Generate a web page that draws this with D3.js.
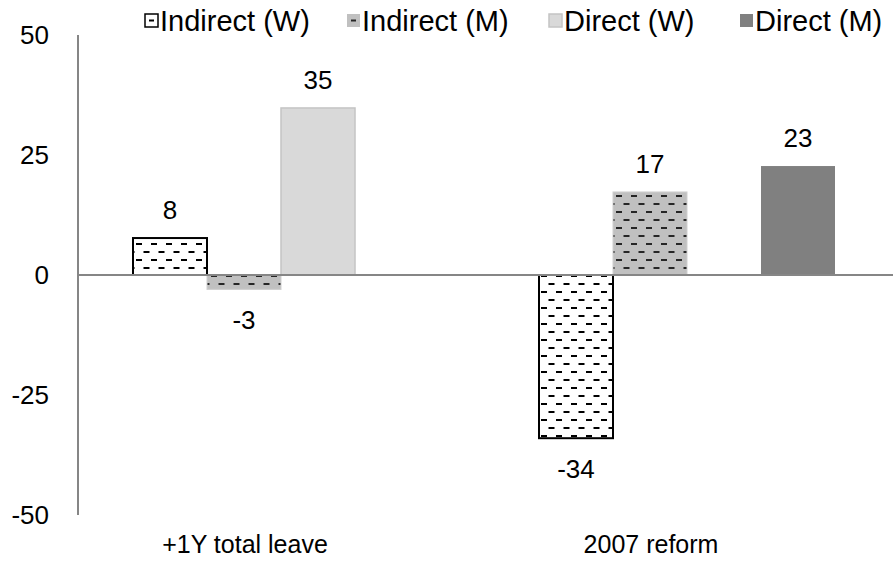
<!DOCTYPE html>
<html>
<head>
<meta charset="utf-8">
<script src="https://cdn.jsdelivr.net/npm/d3@7"></script>
<style>
  body { margin: 0; background: #fff; }
  text { font-family: "Liberation Sans", Arial, sans-serif; fill: #000; }
</style>
</head>
<body>
<div id="chart"></div>
<script>
// data
var categories = ["+1Y total leave", "2007 reform"];
var seriesNames = ["Indirect (W)", "Indirect (M)", "Direct (W)", "Direct (M)"];
var indirectW = [7.7, -34];
var indirectM = [-3, 17.3];
var directW = [34.8, null];
var directM = [null, 22.7];
var yTicks = [-50, -25, 0, 25, 50];

const width = 895;
const height = 569;

var svg = d3.select("#chart").append("svg")
    .attr("width", width)
    .attr("height", height);

var defs = svg.append("defs");

// dashed horizontal pattern (Excel style)
function dashPattern(id, bg, dash) {
    var p = defs.append("pattern")
        .attr("id", id)
        .attr("patternUnits", "userSpaceOnUse")
        .attr("width", 15)
        .attr("height", 16);
    p.append("rect").attr("width", 15).attr("height", 16).attr("fill", bg);
    p.append("rect").attr("x", 1).attr("y", 3).attr("width", 6).attr("height", 2).attr("fill", dash);
    p.append("rect").attr("x", 8.5).attr("y", 11).attr("width", 6).attr("height", 2).attr("fill", dash);
}
dashPattern("patW", "#ffffff", "#000000");
dashPattern("patM", "#c0c0c0", "#262626");

var styles = [
    {fill: "url(#patW)", stroke: "#000000", sw: 2},
    {fill: "url(#patM)", stroke: "#cfcfcf", sw: 1},
    {fill: "#d9d9d9", stroke: "#c4c4c4", sw: 1.5},
    {fill: "#808080", stroke: "none", sw: 0}
];

var seriesVals = [indirectW, indirectM, directW, directM];
var rows = [];
categories.forEach(function(c, i) {
    seriesNames.forEach(function(s, j) {
        rows.push({cat: c, series: s, idx: j, value: seriesVals[j][i]});
    });
});

var plotLeft = 78, plotRight = 890, plotTop = 35, plotBottom = 515;

var y = d3.scaleLinear().domain([-50, 50]).range([plotBottom, plotTop]);
var x0 = d3.scaleBand().domain(categories).range([plotLeft, plotRight]);
var groupPad = 55;
var x1 = d3.scaleBand().domain(seriesNames).range([groupPad, x0.bandwidth() - groupPad]);

// y axis line + labels
svg.append("line")
    .attr("x1", plotLeft).attr("x2", plotLeft)
    .attr("y1", y(50)).attr("y2", y(-50))
    .attr("stroke", "#868686").attr("stroke-width", 2);

svg.selectAll(".ytick")
    .data(yTicks)
    .enter()
    .append("text")
    .attr("class", "ytick")
    .attr("x", 49)
    .attr("y", function(d) { return y(d); })
    .attr("dy", "0.36em")
    .attr("text-anchor", "end")
    .style("font-size", "26px")
    .text(function(d) { return d; });

// bars
var bars = rows.filter(function(d) { return d.value != null; });
svg.selectAll(".bar")
    .data(bars)
    .enter()
    .append("rect")
    .attr("class", "bar")
    .attr("x", function(d) { return x0(d.cat) + x1(d.series); })
    .attr("width", x1.bandwidth())
    .attr("y", function(d) { return d.value >= 0 ? y(d.value) : y(0); })
    .attr("height", function(d) { return Math.abs(y(d.value) - y(0)); })
    .attr("fill", function(d) { return styles[d.idx].fill; })
    .attr("stroke", function(d) { return styles[d.idx].stroke; })
    .attr("stroke-width", function(d) { return styles[d.idx].sw; });

// zero line
svg.append("line")
    .attr("x1", plotLeft).attr("x2", plotRight + 3)
    .attr("y1", y(0)).attr("y2", y(0))
    .attr("stroke", "#868686").attr("stroke-width", 2);

// value labels (plain hyphen for negatives, like the original)
svg.selectAll(".vlab")
    .data(bars)
    .enter()
    .append("text")
    .attr("class", "vlab")
    .attr("x", function(d) { return x0(d.cat) + x1(d.series) + x1.bandwidth() / 2; })
    .attr("y", function(d) { return d.value >= 0 ? y(d.value) - 19 : y(d.value) + 40; })
    .attr("text-anchor", "middle")
    .style("font-size", "26px")
    .text(function(d) { return String(Math.round(d.value)); });

// category labels
svg.selectAll(".clab")
    .data(categories)
    .enter()
    .append("text")
    .attr("class", "clab")
    .attr("x", function(d) { return x0(d) + x0.bandwidth() / 2 - 36; })
    .attr("y", 553)
    .attr("text-anchor", "middle")
    .style("font-size", "25px")
    .text(function(d) { return d; });

// legend
var legendX = [144, 346, 548, 739];
var lg = svg.selectAll(".lg")
    .data(seriesNames)
    .enter()
    .append("g")
    .attr("class", "lg")
    .attr("transform", function(d, i) { return "translate(" + legendX[i] + ",0)"; });

lg.append("rect")
    .attr("x", 1).attr("y", 14)
    .attr("width", 13).attr("height", 13)
    .attr("fill", function(d, i) { return i < 2 ? (i == 0 ? "#fff" : "#c0c0c0") : styles[i].fill; })
    .attr("stroke", function(d, i) { return i == 0 ? "#000" : (i == 2 ? "#c4c4c4" : "none"); })
    .attr("stroke-width", 1.5);

lg.filter(function(d, i) { return i < 2; })
    .append("rect")
    .attr("x", 5).attr("y", 19.5)
    .attr("width", 5).attr("height", 2)
    .attr("fill", function(d, i) { return i == 0 ? "#000" : "#262626"; });

lg.append("text")
    .attr("x", 16)
    .attr("y", 31)
    .style("font-size", "29px")
    .text(function(d) { return d; });
</script>
</body>
</html>
